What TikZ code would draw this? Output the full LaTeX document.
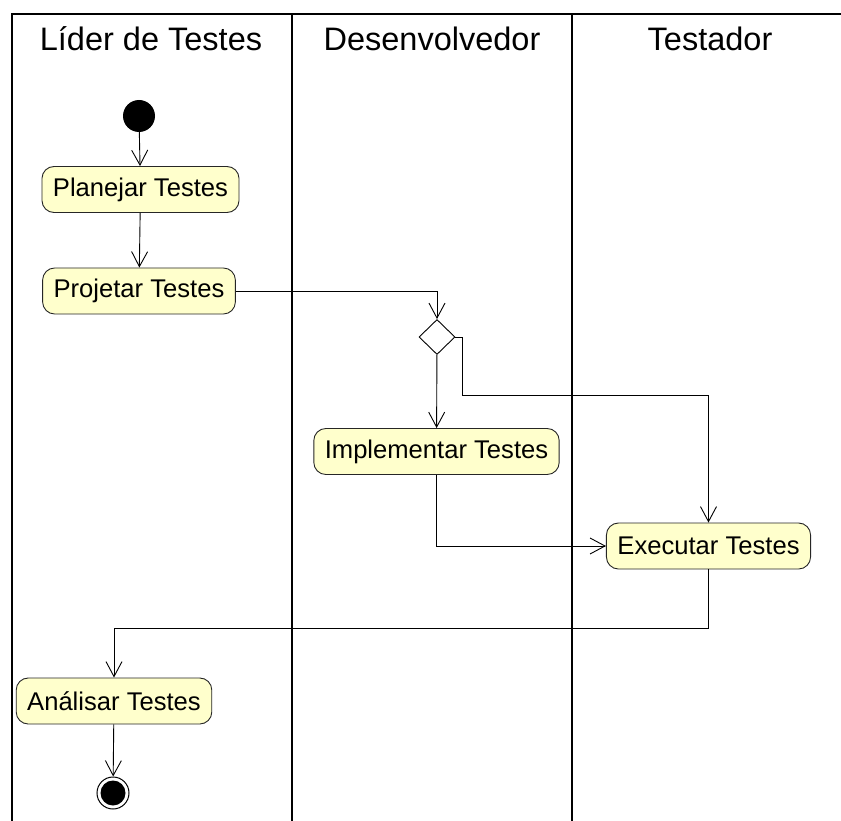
\documentclass[tikz,border=0pt]{standalone}
\usepackage{fontspec}
\setmainfont{Liberation Sans}
\usetikzlibrary{arrows.meta,shapes.geometric}
\definecolor{actfill}{RGB}{255,255,204}
\tikzset{
  lane/.style={line width=1.2pt},
  lanetitle/.style={anchor=base, font=\fontsize{32.5}{38}\selectfont},
  act/.style={draw=black!85, fill=actfill, line width=0.9pt, rounded corners=12pt,
    minimum height=46pt, inner xsep=11pt, font=\fontsize{25.6}{30}\selectfont},
  flow/.style={line width=0.9pt, -{Straight Barb[length=15pt,width=16pt,line width=0.9pt]}}
}

\begin{document}
\begin{tikzpicture}[x=1pt, y=-1pt]
		\useasboundingbox (0,0) rectangle (841,821);
		%%%%% lanes %%%%%
		\draw[lane] (12,821) -- (12,14) -- (841,14);
		\draw[lane] (292,14) -- (292,821);
		\draw[lane] (572,14) -- (572,821);
		\node[lanetitle] (lider) at (151,51) {Líder de Testes};
		\node[lanetitle] (desenv) at (432,51) {Desenvolvedor};
		\node[lanetitle] (testador) at (710,51) {Testador};
		
		%%%%% activities %%%%%
		\node[circle, fill=black, minimum size=32pt, inner sep=0pt] (inicio) at (139,116) {};
		\node[act] (planejar) at (140.5,189.5) {Planejar Testes};
		\node[act] (projetar) at (139,291) {Projetar Testes};
		\node[diamond, draw, fill=white, line width=0.9pt, minimum width=36pt, minimum height=35pt, inner sep=0pt] (decisao) at (437,337) {};
		\node[act] (implementar) at (436.5,451.5) {Implementar Testes};
		\node[act] (executar) at (708.5,546) {Executar Testes};
		\node[act] (analisar) at (114,701) {Análisar Testes};
		\node[circle, draw, line width=1pt, minimum size=32pt, inner sep=0pt] (fim) at (113,793) {};
		\node[circle, fill=black, minimum size=25pt, inner sep=0pt] (fimdot) at (fim) {};
		
		\coordinate (desvio) at (462,395);
		\coordinate (retorno) at (114,628);
		
		%%%%% flows %%%%%
		\draw[flow] (inicio) -- (planejar);
		\draw[flow] (planejar) -- (projetar);
		\draw[flow] (projetar) -| (decisao);
		\draw[flow] (decisao) -- (implementar);
		\draw[flow] (decisao.east) -| (desvio) -| (executar);
		\draw[flow] (implementar) |- (executar);
		\draw[flow] (executar) |- (retorno) -- (analisar);
		\draw[flow] (analisar) -- (fim);
	\end{tikzpicture}
\end{document}
